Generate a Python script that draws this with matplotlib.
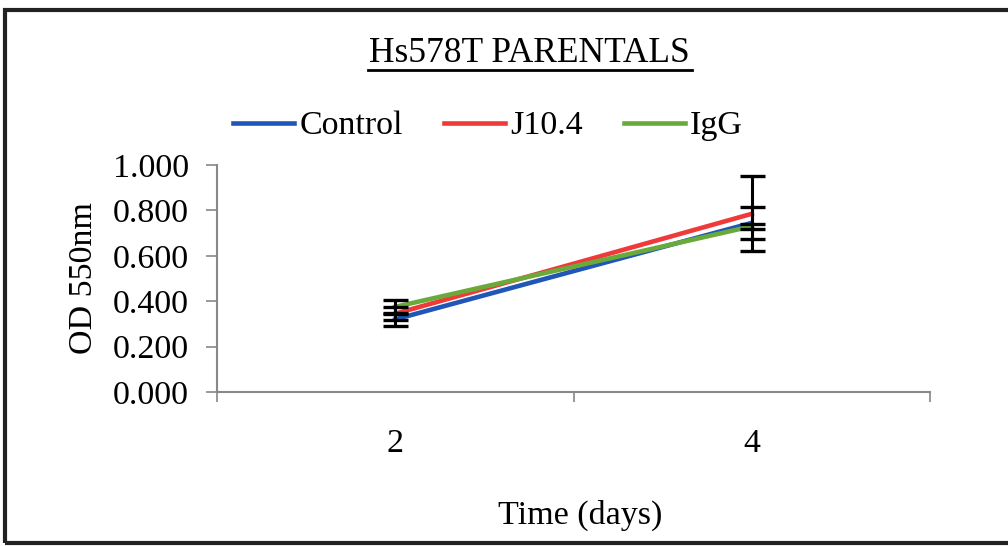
import matplotlib
matplotlib.use('Agg')
import matplotlib.pyplot as plt
from matplotlib.lines import Line2D
from matplotlib.patches import Rectangle

# data
days = ['2', '4']
control = [0.32, 0.745]
control_err = [0.03, 0.07]
j104 = [0.345, 0.785]
j104_err = [0.03, 0.165]
igg = [0.375, 0.73]
igg_err = [0.03, 0.01]

plt.rcParams['font.family'] = ['Liberation Serif', 'DejaVu Serif']

W, H = 1008, 546
fig = plt.figure(figsize=(W / 100, H / 100), dpi=100)
ax = fig.add_axes([217 / W, 1 - 392 / H, (930 - 217) / W, (392 - 165) / H])

x = list(range(len(days)))
series = [
    ('Control', control, control_err, '#1f56b8'),
    ('J10.4', j104, j104_err, '#f03a3a'),
    ('IgG', igg, igg_err, '#6aaa3a'),
]
for name, vals, err, col in series:
    ax.plot(x, vals, color=col, lw=3.3, label=name, zorder=2)
for name, vals, err, col in series:
    ax.errorbar(x, vals, yerr=err, fmt='none', ecolor='black', elinewidth=2.2,
                capsize=9, capthick=2.4, zorder=3)

ax.set_xlim(-0.5, len(days) - 0.5)
ax.set_ylim(0, 1.0)
ax.set_yticks([0, 0.2, 0.4, 0.6, 0.8, 1.0])
ax.set_yticklabels([f'{v:.3f}' for v in [0, 0.2, 0.4, 0.6, 0.8, 1.0]])
ax.set_xticks([-0.5, 0.5, 1.5])
ax.set_xticklabels([])
ax.set_xticks(x, minor=True)
ax.set_xticklabels(days, minor=True)
ax.tick_params(axis='x', which='major', direction='out', length=7, color='#888888', width=1.2)
ax.tick_params(axis='x', which='minor', length=0, pad=26, labelsize=24.5)
ax.tick_params(axis='y', direction='out', length=8, color='#888888', width=1.2, pad=12, labelsize=24.5)

for s in ['top', 'right']:
    ax.spines[s].set_visible(False)
for s in ['left', 'bottom']:
    ax.spines[s].set_color('#888888')
    ax.spines[s].set_linewidth(1.5)

ax.set_ylabel('OD 550nm', fontsize=24.5, labelpad=10)
fig.text(580 / W, 1 - 515 / H, 'Time (days)', ha='center', va='center', fontsize=24.5)

leg = ax.legend(loc='center', bbox_to_anchor=(488 / W, 1 - 126 / H),
                bbox_transform=fig.transFigure, ncol=3, frameon=False,
                fontsize=24.5, handlelength=1.8, handletextpad=0.15,
                columnspacing=1.2)

fig.text(529 / W, 1 - 53 / H, 'Hs578T PARENTALS', ha='center', va='center', fontsize=25.5)
fig.add_artist(Line2D([368 / W, 692 / W], [1 - 70 / H, 1 - 70 / H], color='black', lw=2,
                      transform=fig.transFigure))

fig.add_artist(Rectangle((5 / W, 3 / H), 1.2, 1 - 13 / H, fill=False, edgecolor='#222222',
                         lw=3, transform=fig.transFigure))

fig.savefig('out.png', dpi=100)
